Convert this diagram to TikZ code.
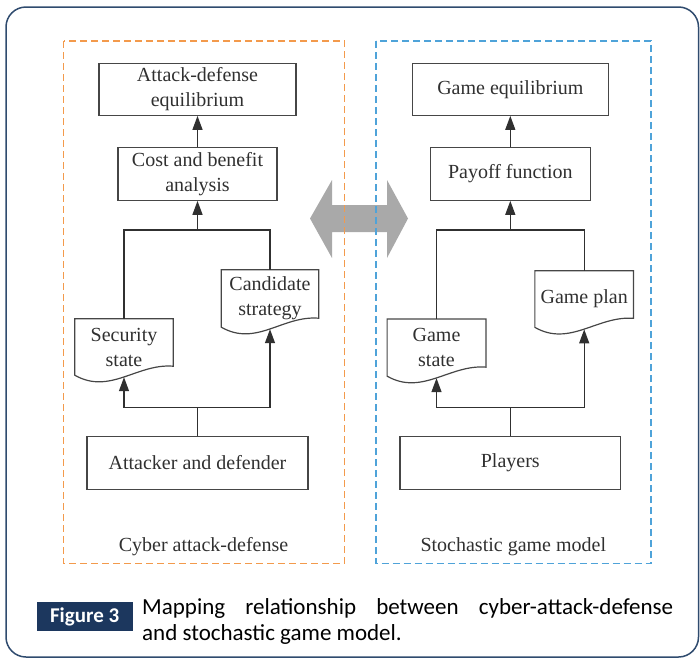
\documentclass[tikz,border=0pt]{standalone}
\usepackage{fontspec}
\setmainfont{Liberation Serif}
\newfontfamily\capfont{Carlito}
\usepackage{tikz}
\usetikzlibrary{arrows.meta}

\definecolor{boxgray}{HTML}{464646}
\definecolor{txtgray}{HTML}{303030}
\definecolor{attorange}{HTML}{F39A4C}
\definecolor{gameblue}{HTML}{4FA3D9}
\definecolor{framenavy}{HTML}{2F4B6E}
\definecolor{tagnavy}{HTML}{1C375E}
\definecolor{mapgray}{HTML}{A9A9A9}

\tikzset{
  boxline/.style={draw=boxgray, line width=1.2pt},
  blk/.style={boxline, rectangle, inner sep=0pt, align=center, text=txtgray,
    font=\fontsize{20}{25}\selectfont},
  docnode/.style={rectangle, inner sep=0pt, align=center, text=txtgray,
    font=\fontsize{20}{25}\selectfont},
  conn/.style={draw=txtgray, line width=1.3pt},
  flow/.style={conn, -{Triangle[length=14pt,width=10pt]}},
  region/.style={line width=1.5pt, dash pattern=on 7pt off 4pt},
  regionlabel/.style={text=txtgray, font=\fontsize{20}{25}\selectfont},
}

% document outline: flat top, wavy bottom
\newcommand{\drawdoc}[1]{%
  \draw[boxline] (#1.north west) -- (#1.south west)
    .. controls +(35,20) and +(-36,-3) .. ([yshift=9pt]#1.south east)
    -- (#1.north east) -- cycle;}

\begin{document}
\begin{tikzpicture}[x=1pt,y=-1pt]
\useasboundingbox (0,0) rectangle (700,659);

% Outer frame
\draw[framenavy, line width=1.5pt, rounded corners=20pt] (6,7) rectangle (698.5,657);

% Mapping arrow
\fill[mapgray] (310,218.5) -- (332,180) -- (332,205) -- (387,205) -- (387,180)
  -- (408,218.5) -- (387,258) -- (387,232) -- (332,232) -- (332,258) -- cycle;

% Dashed regions
\draw[region, draw=attorange] (63.5,41) rectangle (344.5,563.5);
\draw[region, draw=gameblue] (376,41) rectangle (651,563.5);
\node[regionlabel] (cyberlbl) at (203.5,547) {Cyber attack-defense};
\node[regionlabel] (gamelbl) at (513.3,547) {Stochastic game model};

% Cyber attack-defense side
\node[blk, minimum width=197pt, minimum height=52pt] (ade) at (197.5,89.3) {Attack-defense\\equilibrium};
\node[blk, minimum width=159pt, minimum height=52.5pt] (cba) at (197.5,174) {Cost and benefit\\analysis};
\node[docnode, minimum width=98pt, minimum height=56pt] (ss) at (124,347) {Security\\state};
\node[docnode, minimum width=97pt, minimum height=57pt] (cs) at (270,298.5) {Candidate\\strategy};
\node[blk, minimum width=221pt, minimum height=52.6pt] (aad) at (197.5,463) {Attacker and defender};
\drawdoc{ss}
\drawdoc{cs}

\coordinate (ltop) at (197.5,230);
\coordinate (lbot) at (197.5,407.7);
\draw[flow] (cba.north) -- (ade.south);
\draw[flow] (ltop) -- (cba.south);
\draw[conn] (ss.north) |- (ltop) -| (cs.north);
\draw[conn] (aad.north) -- (lbot);
\draw[flow] (lbot) -| ([yshift=-2pt]ss.south);
\draw[flow] (lbot) -| ([yshift=-2pt]cs.south);

% Stochastic game side
\node[blk, minimum width=196pt, minimum height=52pt] (ge) at (510.3,89.3) {Game equilibrium};
\node[blk, minimum width=160pt, minimum height=52.5pt] (pf) at (510.3,174) {Payoff function};
\node[docnode, minimum width=98.4pt, minimum height=56.7pt] (gs) at (436.5,347.6) {Game\\state};
\node[docnode, minimum width=98.3pt, minimum height=56.3pt] (gp) at (584.2,299) {Game plan};
\node[blk, minimum width=220.7pt, minimum height=52.6pt] (pl) at (510.3,463) {Players};
\drawdoc{gs}
\drawdoc{gp}

\coordinate (rtop) at (510.3,230);
\coordinate (rbot) at (510.3,407.7);
\draw[flow] (pf.north) -- (ge.south);
\draw[flow] (rtop) -- (pf.south);
\draw[conn] (gs.north) |- (rtop) -| (gp.north);
\draw[conn] (pl.north) -- (rbot);
\draw[flow] (rbot) -| ([yshift=-2pt]gs.south);
\draw[flow] (rbot) -| ([yshift=-2pt]gp.south);

% Caption
\node[fill=tagnavy, text=white, inner sep=0pt, minimum width=96pt, minimum height=28.4pt,
  font=\capfont\bfseries\fontsize{21}{25}\selectfont] (tag) at (84.7,616.5) {Figure 3};
\node[anchor=north west, inner sep=0pt, text width=531pt, align=justify,
  font=\capfont\fontsize{23}{26}\selectfont] (cap) at (142,598)
  {Mapping relationship between cyber-attack-defense\linebreak and stochastic game model.};

\end{tikzpicture}
\end{document}
